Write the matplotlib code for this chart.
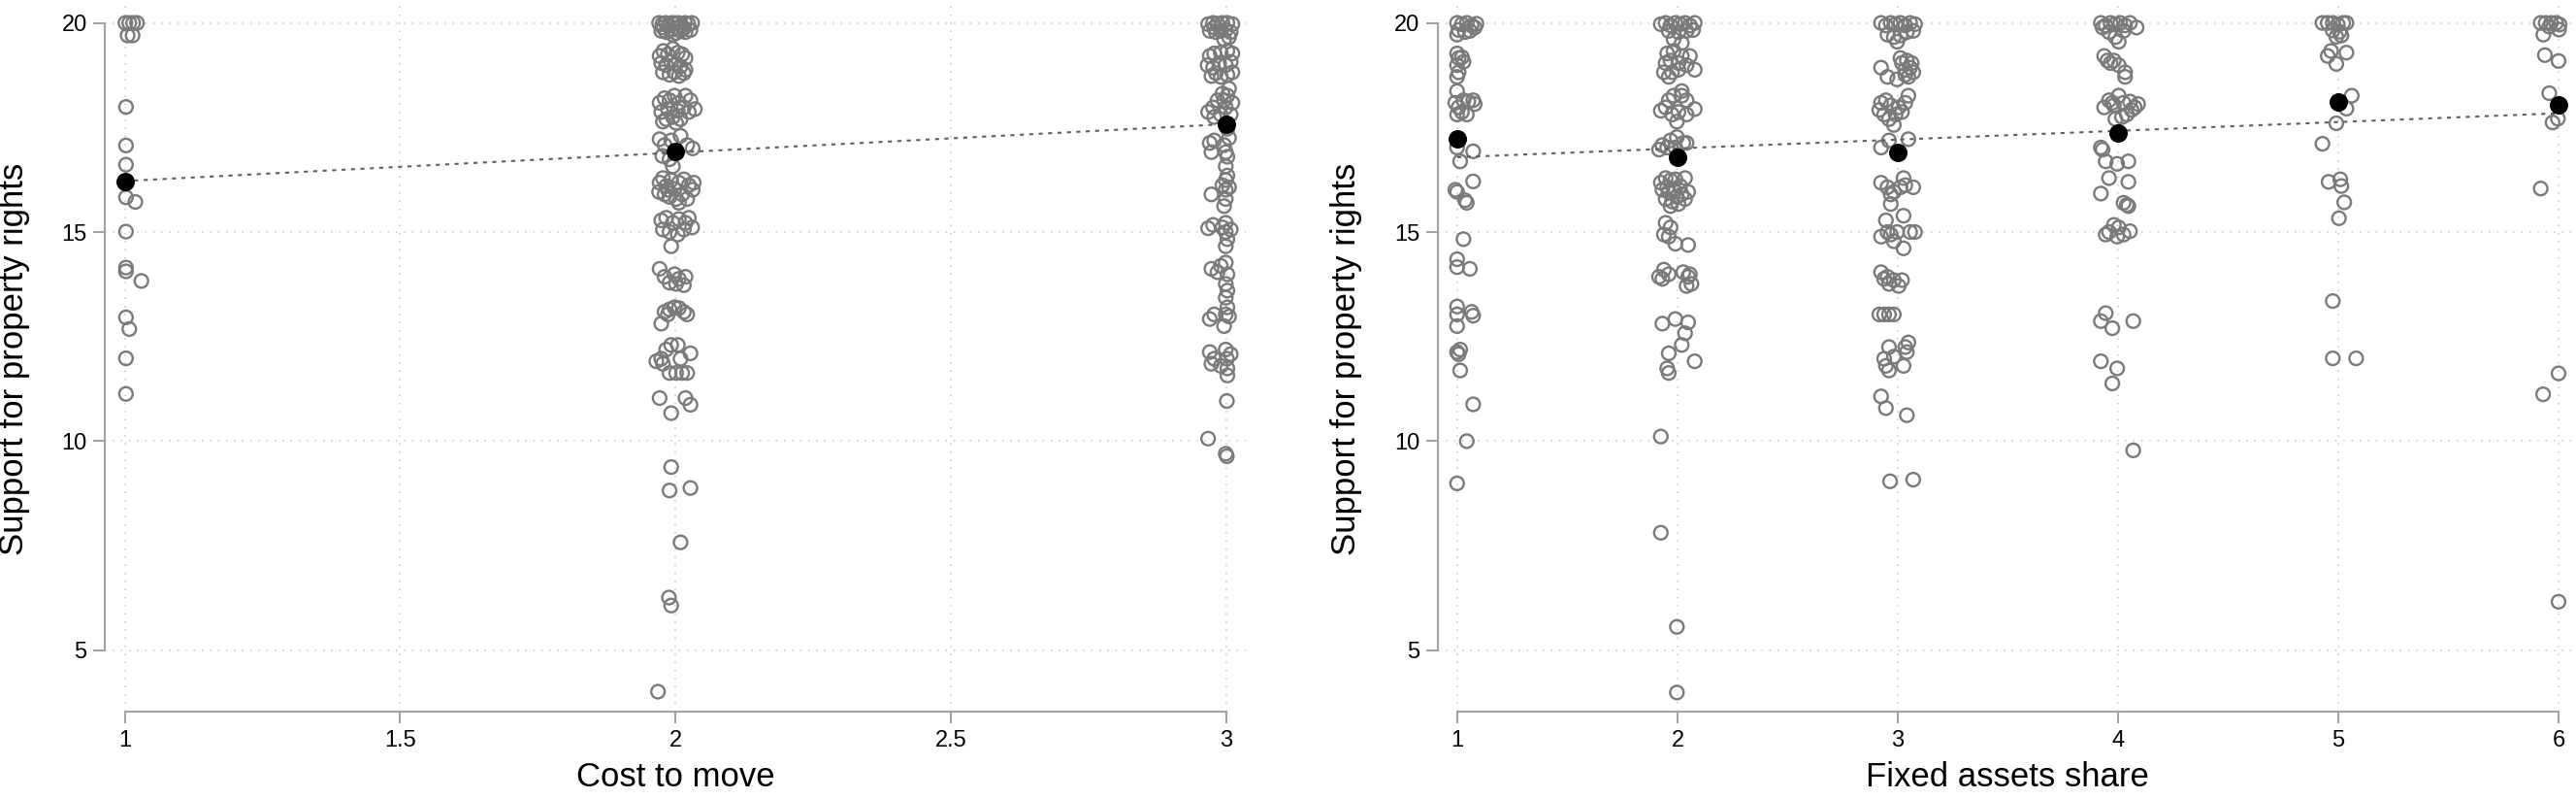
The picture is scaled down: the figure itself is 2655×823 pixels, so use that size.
import matplotlib
matplotlib.use("Agg")
import matplotlib.pyplot as plt

plt.rcParams['font.family'] = ['Liberation Sans', 'DejaVu Sans']
plt.rcParams['lines.scale_dashes'] = False

# ---------------- data ----------------
# Panel 1: cost to move (levels 1..3); each point = (jitter offset in x units, support value)
cost_levels = [1, 2, 3]
cost_at_1 = [(0.001, 20.00), (0.008, 20.00), (0.015, 20.00), (0.022, 20.00), (0.005, 19.70), (0.014, 19.70),
             (0.002, 17.99), (0.002, 17.07), (0.002, 16.61), (0.002, 15.83), (0.019, 15.72), (0.002, 15.01),
             (0.002, 14.15), (0.002, 14.06), (0.030, 13.83), (0.002, 12.96), (0.008, 12.68), (0.002, 11.98),
             (0.002, 11.13)]
cost_at_2 = [(-0.030, 20.00), (-0.024, 19.97), (-0.018, 20.00), (-0.012, 19.94), (-0.006, 20.00), (-0.001, 19.98),
             (0.005, 20.00), (0.011, 19.94), (0.017, 20.00), (0.023, 19.98), (0.030, 20.00), (-0.026, 19.81),
             (-0.017, 19.78), (-0.008, 19.83), (0.001, 19.76), (0.009, 19.81), (0.018, 19.78), (0.027, 19.83),
             (-0.023, 19.89), (0.004, 19.89), (0.015, 19.87), (-0.005, 19.72),
             (-0.029, 19.21), (-0.022, 19.33), (-0.014, 19.25), (-0.005, 19.38), (0.004, 19.29), (0.012, 19.25),
             (0.018, 19.16), (-0.026, 19.04), (-0.017, 18.99), (-0.008, 19.07), (0.001, 19.02), (0.009, 18.96),
             (0.018, 18.88), (-0.023, 18.82), (-0.011, 18.76), (-0.002, 18.82), (0.006, 18.73), (0.015, 18.80),
             (-0.029, 18.09), (-0.020, 18.20), (-0.011, 18.15), (-0.002, 18.26), (0.006, 18.09), (0.018, 18.26),
             (0.027, 18.15), (0.035, 17.94), (-0.026, 17.87), (-0.014, 17.94), (0.004, 17.90), (0.015, 17.98),
             (-0.017, 17.70), (-0.005, 17.75), (0.009, 17.70), (0.024, 17.87), (-0.023, 17.64), (0.001, 17.61),
             (-0.029, 17.22), (-0.020, 17.08), (-0.008, 17.19), (0.009, 17.30), (0.021, 17.08), (0.031, 17.00),
             (-0.024, 16.82), (-0.011, 16.74), (-0.005, 16.57),
             (-0.029, 16.18), (-0.023, 16.29), (-0.017, 16.10), (-0.008, 16.24), (-0.002, 16.03), (0.006, 16.18),
             (0.015, 16.26), (0.024, 16.12), (0.033, 16.18), (-0.030, 15.96), (-0.020, 15.90), (-0.011, 15.84),
             (0.001, 15.79), (0.012, 15.90), (0.021, 15.79), (0.031, 16.01), (-0.014, 16.01), (0.006, 15.70),
             (-0.026, 15.28), (-0.017, 15.34), (-0.005, 15.22), (0.006, 15.31), (0.018, 15.22), (0.030, 15.11),
             (-0.023, 15.06), (-0.011, 15.00), (0.004, 14.94), (0.015, 15.06), (-0.008, 14.66), (0.024, 15.34),
             (-0.029, 14.12), (-0.020, 13.93), (-0.011, 13.79), (-0.002, 13.99), (0.006, 13.88), (0.018, 13.93),
             (0.015, 13.73), (0.001, 13.76),
             (-0.026, 12.81), (-0.020, 13.09), (-0.011, 13.15), (-0.002, 13.20), (0.006, 13.18), (0.015, 13.09),
             (0.021, 13.03), (-0.014, 13.03),
             (-0.035, 11.91), (-0.026, 11.97), (-0.017, 12.19), (-0.008, 12.30), (0.004, 12.30), (0.009, 11.97),
             (0.027, 12.10), (-0.011, 11.63), (0.001, 11.63), (0.012, 11.63), (0.021, 11.63), (-0.023, 11.85),
             (-0.029, 11.03), (-0.008, 10.67), (0.018, 11.03), (0.027, 10.87), (-0.008, 9.38), (-0.011, 8.82),
             (0.027, 8.88), (0.009, 7.58), (-0.012, 6.26), (-0.008, 6.07), (-0.032, 4.01)]
cost_at_3 = [(-0.033, 19.97), (-0.024, 20.00), (-0.016, 19.98), (-0.007, 20.00), (0.002, 20.00), (0.011, 19.97),
             (-0.030, 19.81), (-0.019, 19.78), (-0.010, 19.81), (-0.001, 19.83), (0.008, 19.78), (-0.022, 19.89),
             (0.005, 19.66), (-0.004, 19.61),
             (-0.030, 19.21), (-0.022, 19.27), (-0.010, 19.29), (0.002, 19.33), (0.011, 19.27), (-0.034, 18.99),
             (-0.024, 18.93), (-0.013, 19.04), (-0.001, 18.99), (0.008, 19.07), (-0.027, 18.73), (-0.010, 18.71),
             (0.002, 18.76), (0.011, 18.82), (-0.019, 18.80),
             (-0.033, 17.87), (-0.024, 17.98), (-0.016, 18.15), (-0.007, 18.31), (0.002, 18.26), (0.011, 18.09),
             (-0.001, 17.98), (0.008, 17.81), (-0.010, 17.81), (-0.022, 17.75), (0.005, 18.43), (-0.004, 18.15),
             (-0.030, 17.13), (-0.022, 17.19), (0.002, 17.47), (0.005, 17.25), (-0.027, 16.91), (-0.001, 16.91),
             (-0.004, 17.08), (0.002, 16.80),
             (-0.001, 16.57), (-0.027, 15.90), (-0.007, 16.12), (-0.001, 16.24), (-0.001, 16.01), (-0.001, 15.79),
             (-0.004, 15.62), (0.005, 16.07), (0.002, 16.35),
             (-0.033, 15.09), (-0.024, 15.17), (-0.001, 15.22), (-0.001, 15.00), (0.002, 14.83), (-0.001, 14.66),
             (-0.007, 15.11), (0.008, 15.06),
             (-0.027, 14.12), (-0.010, 14.19), (-0.001, 14.27), (0.002, 13.99), (-0.001, 13.76), (0.002, 13.60),
             (-0.016, 14.04),
             (-0.030, 12.92), (-0.022, 13.03), (-0.001, 13.43), (0.002, 13.20), (-0.001, 13.03), (-0.004, 12.75),
             (0.005, 12.98),
             (-0.030, 12.13), (-0.027, 11.85), (-0.022, 11.97), (-0.001, 12.19), (0.001, 11.97), (0.002, 11.74),
             (0.002, 11.57), (-0.010, 11.80), (0.008, 12.08),
             (0.001, 10.96), (-0.033, 10.06), (-0.001, 9.70), (0.001, 9.64)]
cost_means = [16.21, 16.93, 17.58]
cost_fit = [16.22, 17.58]          # fitted values at cost = 1 and cost = 3
cost_xticks = [1, 1.5, 2, 2.5, 3]
cost_xticklabels = ["1", "1.5", "2", "2.5", "3"]

# Panel 2: fixed assets share (levels 1..6)
asset_levels = [1, 2, 3, 4, 5, 6]
asset_at_1 = [(-0.001, 20.00), (0.021, 19.97), (0.043, 20.00), (0.065, 19.94), (0.087, 19.98), (0.006, 19.83),
              (0.035, 19.78), (0.057, 19.81), (0.079, 19.89), (-0.001, 19.72),
              (-0.001, 19.27), (0.006, 19.16), (0.021, 19.18), (-0.001, 18.99), (0.028, 19.07), (0.006, 18.82),
              (-0.001, 18.71),
              (-0.001, 18.37), (-0.009, 18.09), (0.006, 17.98), (0.028, 18.15), (0.050, 18.12), (0.072, 18.15),
              (0.079, 18.06), (0.021, 17.87), (0.043, 17.81), (-0.001, 17.81),
              (0.072, 16.93), (0.013, 16.69), (-0.001, 17.02), (0.072, 16.21), (-0.009, 16.01), (-0.001, 15.96),
              (0.043, 15.70), (0.035, 15.76), (0.028, 14.83), (-0.001, 14.35), (-0.001, 14.16), (0.057, 14.12),
              (-0.001, 13.22), (-0.001, 13.03), (-0.001, 12.75), (0.065, 13.09), (0.072, 13.00),
              (-0.001, 12.13), (0.013, 12.19), (0.006, 12.08), (0.013, 11.69), (0.072, 10.88), (0.043, 10.00),
              (-0.001, 8.99)]
asset_at_2 = [(-0.076, 19.97), (-0.054, 20.00), (-0.032, 19.94), (-0.010, 20.00), (0.012, 19.97), (0.034, 20.00),
              (0.056, 19.94), (0.078, 20.00), (-0.040, 19.81), (0.004, 19.78), (0.041, 19.81), (0.070, 19.83),
              (-0.018, 19.61), (0.019, 19.52),
              (-0.047, 19.27), (-0.018, 19.33), (0.019, 19.21), (0.056, 19.21), (-0.054, 19.04), (-0.032, 19.10),
              (0.004, 19.04), (0.041, 18.99), (0.078, 18.88), (-0.062, 18.82), (-0.025, 18.82), (0.004, 18.88),
              (-0.040, 18.71),
              (-0.076, 17.90), (-0.040, 18.15), (-0.018, 18.26), (0.019, 18.37), (0.041, 18.15), (0.078, 17.94),
              (-0.025, 17.81), (0.004, 17.87), (0.019, 18.26), (-0.003, 17.64), (0.041, 17.81), (-0.054, 17.98),
              (-0.069, 17.08), (-0.032, 17.19), (-0.003, 17.27), (0.026, 17.13), (-0.084, 16.97), (-0.047, 17.02),
              (-0.010, 17.02), (0.041, 17.13),
              (-0.076, 16.18), (-0.054, 16.29), (-0.032, 16.24), (-0.010, 16.26), (0.012, 16.10), (0.034, 16.29),
              (-0.069, 16.01), (-0.040, 15.96), (-0.018, 16.03), (0.019, 15.90), (0.048, 15.96), (-0.054, 15.79),
              (-0.025, 15.73), (0.004, 15.67), (0.034, 15.79), (-0.047, 16.07), (-0.003, 15.84), (-0.032, 15.62),
              (-0.054, 15.22), (-0.032, 15.11), (-0.062, 14.94), (-0.010, 14.72), (0.048, 14.69), (-0.040, 14.89),
              (-0.084, 13.93), (-0.062, 14.10), (-0.040, 13.99), (-0.069, 13.88), (0.026, 14.04), (0.048, 13.93),
              (0.063, 13.76), (0.041, 13.71), (0.056, 13.99),
              (-0.069, 12.81), (-0.010, 12.92), (0.048, 12.84), (0.034, 12.58), (0.019, 12.30), (-0.040, 12.10),
              (-0.047, 11.74), (-0.040, 11.63), (0.078, 11.91), (-0.076, 10.11), (-0.076, 7.81), (-0.003, 5.56),
              (-0.003, 3.99)]
asset_at_3 = [(-0.076, 20.00), (-0.054, 19.94), (-0.032, 20.00), (-0.010, 19.97), (0.012, 20.00), (0.034, 19.94),
              (0.056, 20.00), (0.078, 19.97), (-0.047, 19.72), (-0.018, 19.66), (0.012, 19.70), (0.041, 19.78),
              (0.070, 19.81), (-0.003, 19.55),
              (-0.076, 18.93), (-0.047, 18.71), (0.019, 19.04), (0.041, 19.10), (0.056, 18.93), (0.070, 18.82),
              (0.034, 18.76), (-0.003, 18.65), (0.012, 19.16), (0.048, 18.71), (0.063, 19.04), (0.034, 18.88),
              (-0.076, 18.09), (-0.054, 18.15), (-0.032, 18.03), (-0.084, 17.92), (-0.062, 17.81), (-0.040, 17.70),
              (-0.018, 17.56), (0.004, 17.98), (0.034, 18.09), (0.048, 18.26), (0.019, 17.87), (-0.010, 17.81),
              (-0.076, 17.02), (-0.040, 17.19), (0.048, 17.22),
              (-0.076, 16.18), (-0.047, 16.07), (-0.032, 15.90), (-0.032, 15.67), (0.026, 16.29), (0.034, 16.12),
              (0.070, 16.07), (0.012, 16.07), (-0.018, 15.96),
              (-0.076, 14.89), (-0.054, 15.28), (-0.032, 14.94), (-0.003, 15.00), (0.026, 15.39), (0.056, 15.00),
              (0.078, 15.00), (0.026, 14.61), (-0.047, 15.00), (-0.018, 14.78),
              (-0.076, 14.04), (-0.062, 13.88), (-0.040, 13.76), (-0.018, 13.85), (0.004, 13.71), (0.019, 13.85),
              (-0.047, 13.93),
              (-0.084, 13.03), (-0.062, 13.03), (-0.040, 13.03), (-0.018, 13.03),
              (-0.040, 12.25), (-0.062, 11.97), (-0.054, 11.80), (-0.040, 11.69), (0.034, 12.25), (0.041, 12.13),
              (0.026, 11.80), (0.048, 12.36), (-0.018, 12.02),
              (-0.076, 11.07), (-0.054, 10.79), (0.041, 10.62), (-0.035, 9.04), (0.070, 9.08)]
asset_at_4 = [(-0.078, 20.00), (-0.056, 19.94), (-0.034, 20.00), (-0.012, 19.97), (0.010, 20.00), (0.032, 19.94),
              (0.054, 20.00), (0.084, 19.89), (-0.041, 19.78), (-0.012, 19.66), (0.003, 19.55), (0.025, 19.81),
              (-0.070, 19.89),
              (-0.063, 19.21), (-0.048, 19.10), (-0.019, 19.10), (0.003, 18.99), (0.032, 18.82), (0.032, 18.71),
              (-0.034, 19.04),
              (-0.063, 17.98), (-0.041, 18.15), (-0.019, 18.03), (0.003, 18.26), (0.025, 18.09), (0.054, 18.12),
              (0.076, 17.98), (0.091, 18.06), (-0.026, 18.09), (-0.012, 17.70), (0.018, 17.75), (0.040, 17.81),
              (0.062, 17.92),
              (-0.078, 17.02), (-0.070, 16.97), (-0.056, 16.69), (-0.004, 16.63), (0.047, 16.69),
              (-0.041, 16.29), (-0.078, 15.92), (0.047, 16.20), (0.025, 15.70), (0.040, 15.65), (0.047, 15.62),
              (-0.041, 15.00), (-0.019, 15.17), (0.003, 15.11), (0.025, 14.94), (0.054, 15.02), (-0.004, 14.89),
              (-0.056, 14.94),
              (-0.056, 13.06), (-0.078, 12.87), (-0.026, 12.70), (0.069, 12.87),
              (-0.078, 11.91), (-0.004, 11.74), (-0.026, 11.38), (0.069, 9.78)]
asset_at_5 = [(-0.072, 20.00), (-0.048, 20.00), (-0.025, 20.00), (-0.002, 19.96), (0.022, 20.00), (0.037, 20.00),
              (-0.025, 19.82), (0.006, 19.79), (-0.009, 19.67), (0.014, 19.70), (-0.033, 19.33), (0.037, 19.29),
              (-0.048, 19.21), (-0.009, 19.02), (0.061, 18.26), (0.037, 17.95), (-0.009, 17.60), (-0.072, 17.11),
              (-0.044, 16.20), (0.009, 16.26), (0.014, 16.10), (0.027, 15.71), (0.003, 15.33), (-0.025, 13.35),
              (-0.025, 11.98), (0.081, 11.98)]
asset_at_6 = [(-0.081, 20.00), (-0.058, 20.00), (-0.034, 20.00), (-0.011, 20.00), (0.005, 19.96), (0.002, 19.84),
              (-0.042, 19.91), (-0.069, 19.72), (-0.062, 19.23), (0.000, 19.09), (-0.042, 18.32), (-0.027, 17.62),
              (-0.003, 17.71), (-0.081, 16.04), (0.000, 11.62), (-0.070, 11.12), (0.000, 6.16)]
asset_means = [17.22, 16.78, 16.90, 17.36, 18.10, 18.04]
asset_fit = [16.79, 17.84]          # fitted values at share = 1 and share = 6
asset_xticks = [1, 2, 3, 4, 5, 6]
asset_xticklabels = ["1", "2", "3", "4", "5", "6"]

y_ticks = [5, 10, 15, 20]
y_label = "Support for property rights"

# ---------------- figure ----------------
W, H = 2655, 823
fig = plt.figure(figsize=(W / 100, H / 100), dpi=100)


def px_axes(left, right, top, bottom):
    return fig.add_axes([left / W, 1 - bottom / H, (right - left) / W, (bottom - top) / H])


AXIS_GREY = '#a3a3a3'
GRID_GREY = '#c4c4c4'
POINT_GREY = '#7a7a7a'


def draw_panel(ax, levels, groups, means, fit, xticks, xticklabels, xlim):
    ax.set_xlim(*xlim)
    ax.set_ylim(3.526, 20.548)
    ax.patch.set_alpha(0)
    for s in ['top', 'right']:
        ax.spines[s].set_visible(False)
    for s in ['left', 'bottom']:
        ax.spines[s].set_color(AXIS_GREY)
        ax.spines[s].set_linewidth(1.5)
    ax.spines['left'].set_bounds(y_ticks[0], y_ticks[-1])
    ax.spines['bottom'].set_bounds(xticks[0], xticks[-1])
    ax.set_xticks(xticks, xticklabels)
    ax.set_yticks(y_ticks, [str(t) for t in y_ticks])
    ax.tick_params(length=8.4, width=1.5, color=AXIS_GREY, labelsize=17, pad=5, labelcolor='black')
    for x in xticks:
        ax.axvline(x, color=GRID_GREY, lw=1.1, ls=(0, (1, 5)), zorder=0)
    for y in y_ticks:
        ax.axhline(y, color=GRID_GREY, lw=1.1, ls=(0, (1, 5)), zorder=0)
    for lev, pts in zip(levels, groups):
        xs = [lev + d for d, _ in pts]
        ys = [v for _, v in pts]
        ax.scatter(xs, ys, s=100, facecolors='none', edgecolors=POINT_GREY, linewidths=1.7,
                   zorder=2, clip_on=False)
    ax.plot([levels[0], levels[-1]], fit, color='#5e5e5e', lw=1.5, ls=(0, (3, 4)), zorder=3)
    ax.scatter(levels, means, s=160, color='black', zorder=4, clip_on=False)


ax1 = px_axes(108.3, 1284.3, 0, 733.3)
draw_panel(ax1, cost_levels, [cost_at_1, cost_at_2, cost_at_3], cost_means, cost_fit,
           cost_xticks, cost_xticklabels, (1 - 20.4 / 567.6, 3 + 20.4 / 567.6))

ax2 = px_axes(1482.2, 2655, 0, 733.3)
draw_panel(ax2, asset_levels, [asset_at_1, asset_at_2, asset_at_3, asset_at_4, asset_at_5, asset_at_6],
           asset_means, asset_fit, asset_xticks, asset_xticklabels, (1 - 19.8 / 227, 6 + 18 / 227))

fig.text(15 / W, 1 - 369.5 / H, y_label, rotation=90, ha='center', va='center', fontsize=25)
fig.text(1388 / W, 1 - 369.5 / H, y_label, rotation=90, ha='center', va='center', fontsize=25)
fig.text(696.3 / W, 1 - 801 / H, "Cost to move", ha='center', va='center', fontsize=25)
fig.text(2068.6 / W, 1 - 801 / H, "Fixed assets share", ha='center', va='center', fontsize=25)

fig.savefig("out.png", dpi=100, facecolor='white')
